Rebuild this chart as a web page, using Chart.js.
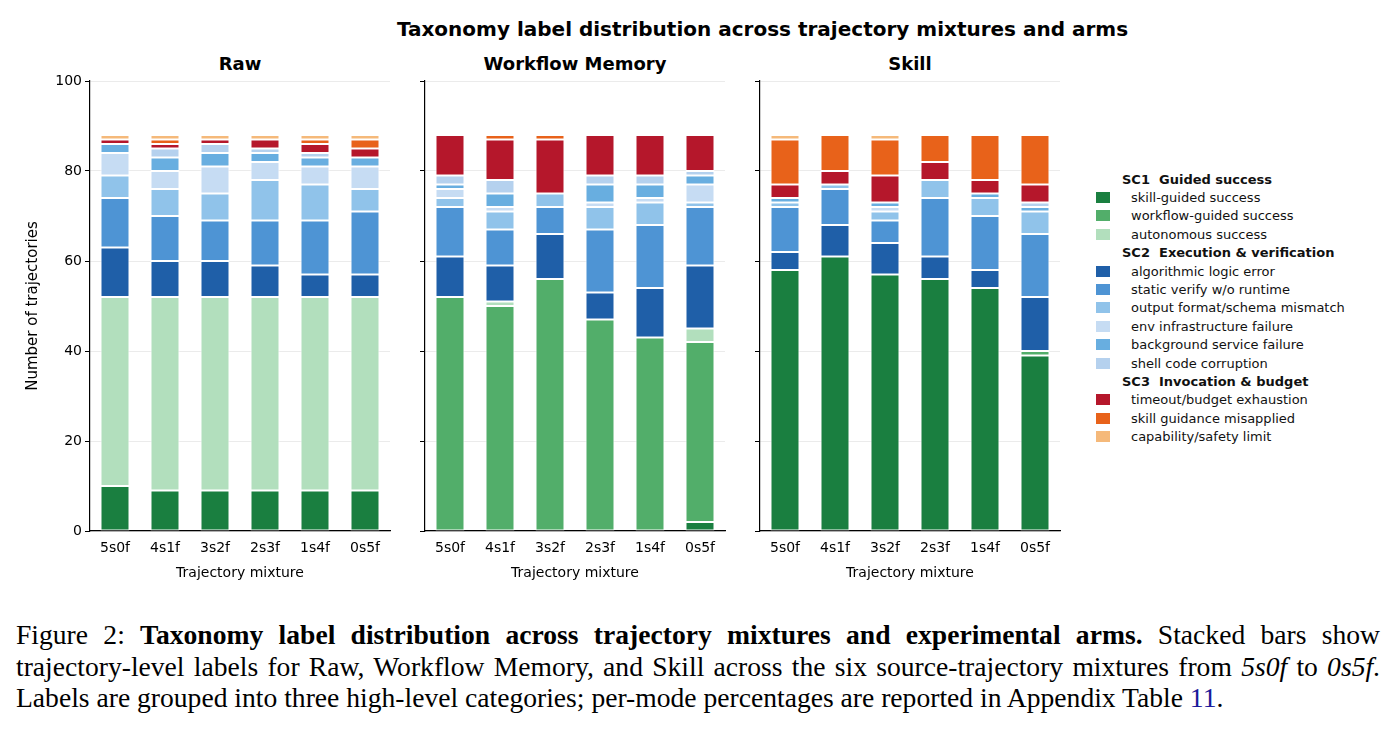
<!DOCTYPE html>
<html><head><meta charset="utf-8">
<script src="https://cdn.jsdelivr.net/npm/chart.js@4"></script>
<style>
body{margin:0;background:#fff;width:1393px;height:740px;position:relative;overflow:hidden;font-family:"DejaVu Sans",sans-serif}
.abs{position:absolute}
.pt{font-weight:bold;font-size:18px;text-align:center;color:#000}
#legend{left:1096px;top:170px;font-size:13px;color:#111}
.lr{height:18.4px;display:flex;align-items:center;white-space:nowrap}
.sw{width:14px;height:11px;margin-right:21px;display:inline-block}
.hd{font-weight:bold;padding-left:26px;white-space:pre}
#cap{left:16px;top:619px;width:1364px;font-family:"Liberation Serif",serif;font-size:27.6px;line-height:31.5px;color:#000;text-align:justify}
</style></head><body>
<div class="abs pt" style="left:0;width:1525px;top:17px;font-size:20px">Taxonomy label distribution across trajectory mixtures and arms</div>
<div class="abs pt" style="left:90px;width:300px;top:53px">Raw</div>
<div class="abs pt" style="left:425px;width:300px;top:53px">Workflow Memory</div>
<div class="abs pt" style="left:760px;width:300px;top:53px">Skill</div>
<canvas id="c0" class="abs" style="left:20px;top:50px"></canvas>
<canvas id="c1" class="abs" style="left:415px;top:50px"></canvas>
<canvas id="c2" class="abs" style="left:750px;top:50px"></canvas>
<div id="legend" class="abs"></div>
<div id="cap" class="abs">Figure 2: <b>Taxonomy label distribution across trajectory mixtures and experimental arms.</b> Stacked bars show trajectory-level labels for Raw, Workflow Memory, and Skill across the six source-trajectory mixtures from <i>5s0f</i> to <i>0s5f</i>. Labels are grouped into three high-level categories; per-mode percentages are reported in Appendix Table <span style="color:#1a1a9a">11</span>.</div>
<script>
const categories=["5s0f","4s1f","3s2f","2s3f","1s4f","0s5f"];
const labels=["skill-guided success","workflow-guided success","autonomous success","algorithmic logic error","static verify w/o runtime","output format/schema mismatch","env infrastructure failure","background service failure","shell code corruption","timeout/budget exhaustion","skill guidance misapplied","capability/safety limit"];
const colors=["#1a7f40","#52ae6a","#b2dfbd","#1f5fa8","#4e94d4","#90c3ea","#c6dcf3","#68aee0","#b5d1ee","#b5172b","#e8621a","#f5b97a"];
const groups=[["SC1  Guided success",0,3],["SC2  Execution & verification",3,9],["SC3  Invocation & budget",9,12]];
const rawData=[
[10,9,9,9,9,9],[0,0,0,0,0,0],[42,43,43,43,43,43],[11,8,8,7,5,5],[11,10,9,10,12,14],[5,6,6,9,8,5],[5,4,6,4,4,5],[2,3,3,2,2,2],[0,2,2,1,1,0],[1,1,1,2,2,2],[0,1,0,0,1,2],[1,1,1,1,1,1]];
const workflowData=[
[0,0,0,0,0,2],[52,50,56,47,43,40],[0,1,0,0,0,3],[9,8,10,6,11,14],[11,8,6,14,14,13],[2,4,3,5,5,1],[2,1,0,1,1,4],[1,3,0,4,3,2],[2,3,0,2,2,1],[9,9,12,9,9,8],[0,1,1,0,0,0],[0,0,0,0,0,0]];
const skillData=[
[58,61,57,56,54,39],[0,0,0,0,0,1],[0,0,0,0,0,0],[4,7,7,5,4,12],[10,8,5,13,12,14],[1,1,2,4,4,5],[0,0,1,0,0,0],[1,0,1,0,1,1],[0,0,0,0,0,1],[3,3,6,4,3,4],[10,8,8,6,10,11],[1,0,1,0,0,0]];
const panels=[rawData,workflowData,skillData];
const widths=[375,315,315];
panels.forEach((d,i)=>{
  const cv=document.getElementById('c'+i);
  cv.style.width=widths[i]+'px';cv.style.height='536px';
  new Chart(cv,{type:'bar',data:{labels:categories,datasets:d.map((v,k)=>({label:labels[k],data:v,backgroundColor:colors[k],borderColor:'#ffffff',borderWidth:1,borderSkipped:false,categoryPercentage:1,barPercentage:0.58}))},
  options:{responsive:false,animation:false,devicePixelRatio:1,layout:{padding:{top:31,right:5,left:0,bottom:0}},
    plugins:{legend:{display:false},tooltip:{enabled:false}},
    scales:{
      x:{stacked:true,grid:{display:false,drawTicks:true,tickLength:5},border:{color:'#000',width:1.2},
        ticks:{color:'#000',font:{family:'DejaVu Sans',size:14},padding:4},
        title:{display:true,text:'Trajectory mixture',color:'#000',font:{family:'DejaVu Sans',size:14},padding:{top:0}},
        afterFit:a=>{a.height=55}},
      y:{stacked:true,min:0,max:100,grid:{color:'#ebebeb',tickLength:5,drawTicks:true,tickColor:'#000'},border:{color:'#000',width:1.2},
        ticks:{stepSize:20,display:i===0,color:'#000',font:{family:'DejaVu Sans',size:14}},
        title:{display:i===0,text:'Number of trajectories',color:'#000',font:{family:'DejaVu Sans',size:15}},
        afterFit:a=>{a.width=i===0?70:10}}
    }}});
});
const lg=document.getElementById('legend');
groups.forEach(g=>{
  lg.insertAdjacentHTML('beforeend',`<div class="lr hd">${g[0]}</div>`);
  for(let k=g[1];k<g[2];k++)lg.insertAdjacentHTML('beforeend',`<div class="lr"><span class="sw" style="background:${colors[k]}"></span>${labels[k]}</div>`);
});
</script></body></html>
